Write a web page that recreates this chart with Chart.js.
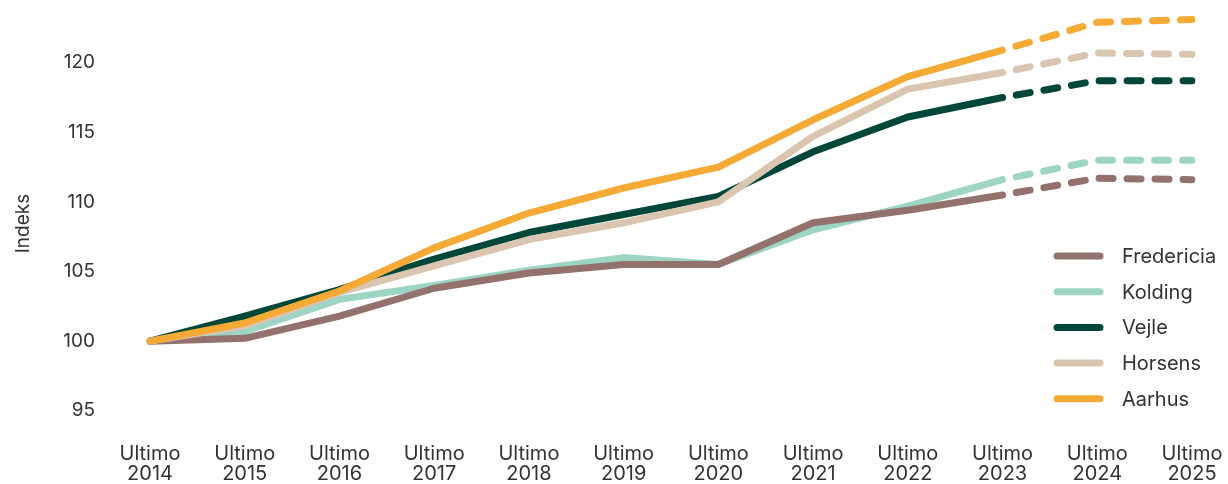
<!DOCTYPE html>
<html>
<head>
<meta charset="utf-8">
<script src="https://cdn.jsdelivr.net/npm/chart.js@4"></script>
<style>
  html, body { margin: 0; padding: 0; background: #fff; }
  #wrap { position: relative; width: 1228px; height: 484px; }
</style>
</head>
<body>
<div id="wrap"><canvas id="indeksChart"></canvas></div>
<script>
// Data
const years = ['2014', '2015', '2016', '2017', '2018', '2019', '2020', '2021', '2022', '2023', '2024', '2025'];
const fredericia = [100, 100.2, 101.8, 103.8, 104.9, 105.5, 105.5, 108.5, 109.4, 110.5, 111.7, 111.6];
const kolding    = [100, 100.7, 103.0, 104.0, 105.1, 106.0, 105.5, 108.0, 109.7, 111.6, 113.0, 113.0];
const vejle      = [100, 101.8, 103.7, 105.9, 107.8, 109.1, 110.4, 113.6, 116.1, 117.5, 118.7, 118.7];
const horsens    = [100, 101.1, 103.5, 105.4, 107.3, 108.5, 110.0, 114.7, 118.1, 119.3, 120.7, 120.6];
const aarhus     = [100, 101.3, 103.6, 106.7, 109.2, 111.0, 112.5, 115.9, 119.0, 120.9, 122.9, 123.1];
const yTicks = [95, 100, 105, 110, 115, 120];
const prognoseFra = 9; // index of 2023, dashed from here on

const font = "'Inter', 'Lato', sans-serif";
const tekst = '#333333';

function serie(label, data, color, order) {
  return {
    label: label,
    data: data,
    borderColor: color,
    backgroundColor: color,
    borderWidth: 7,
    borderCapStyle: 'round',
    borderJoinStyle: 'round',
    pointRadius: 0,
    tension: 0,
    order: order,
    segment: {
      borderDash: ctx => ctx.p0DataIndex >= prognoseFra ? [14, 14] : undefined,
      borderDashOffset: ctx => ctx.p0DataIndex >= prognoseFra ? 14 : 0
    }
  };
}

// legend drawn inside the plot area (bottom right)
const legendInside = {
  id: 'legendInside',
  afterDraw(chart) {
    const c = chart.ctx;
    const x0 = 1057, x1 = 1100, tx = 1122;
    const y0 = 256, step = 35.7;
    c.save();
    c.font = '20px ' + font;
    c.textBaseline = 'middle';
    c.fillStyle = tekst;
    chart.data.datasets.forEach((ds, i) => {
      const y = y0 + i * step;
      c.beginPath();
      c.lineWidth = 7;
      c.lineCap = 'round';
      c.strokeStyle = ds.borderColor;
      c.moveTo(x0, y);
      c.lineTo(x1, y);
      c.stroke();
      c.fillText(ds.label, tx, y + 1);
    });
    c.restore();
  }
};

new Chart(document.getElementById('indeksChart'), {
  type: 'line',
  data: {
    labels: years.map(y => ['Ultimo', y]),
    datasets: [
      serie('Fredericia', fredericia, '#93716c', 3),
      serie('Kolding', kolding, '#9dd4c4', 4),
      serie('Vejle', vejle, '#00473a', 2),
      serie('Horsens', horsens, '#dac6b0', 1),
      serie('Aarhus', aarhus, '#f5aa35', 0)
    ]
  },
  options: {
    responsive: true,
    maintainAspectRatio: false,
    animation: false,
    layout: { padding: { top: 7, right: 36, left: 10, bottom: 0 } },
    plugins: {
      legend: { display: false },
      tooltip: { enabled: false }
    },
    scales: {
      x: {
        grid: { display: false, drawTicks: false },
        border: { display: false },
        afterFit: scale => { scale.height = 44; },
        ticks: {
          color: tekst,
          font: { family: font, size: 20, lineHeight: 1.0 },
          maxRotation: 0,
          autoSkip: false,
          padding: 4
        }
      },
      y: {
        min: 92.9,
        max: 124,
        grid: { display: false, drawTicks: false },
        border: { display: false },
        afterBuildTicks: scale => { scale.ticks = yTicks.map(v => ({ value: v })); },
        afterFit: scale => {
          scale.width = 140;
          scale.paddingTop = 0;
          scale.paddingBottom = 0;
        },
        ticks: {
          color: tekst,
          font: { family: font, size: 19 },
          padding: 55
        },
        title: {
          display: true,
          text: 'Indeks',
          color: tekst,
          font: { family: font, size: 19 },
          padding: { top: 2, bottom: 0 }
        }
      }
    }
  },
  plugins: [legendInside]
});
</script>
</body>
</html>
